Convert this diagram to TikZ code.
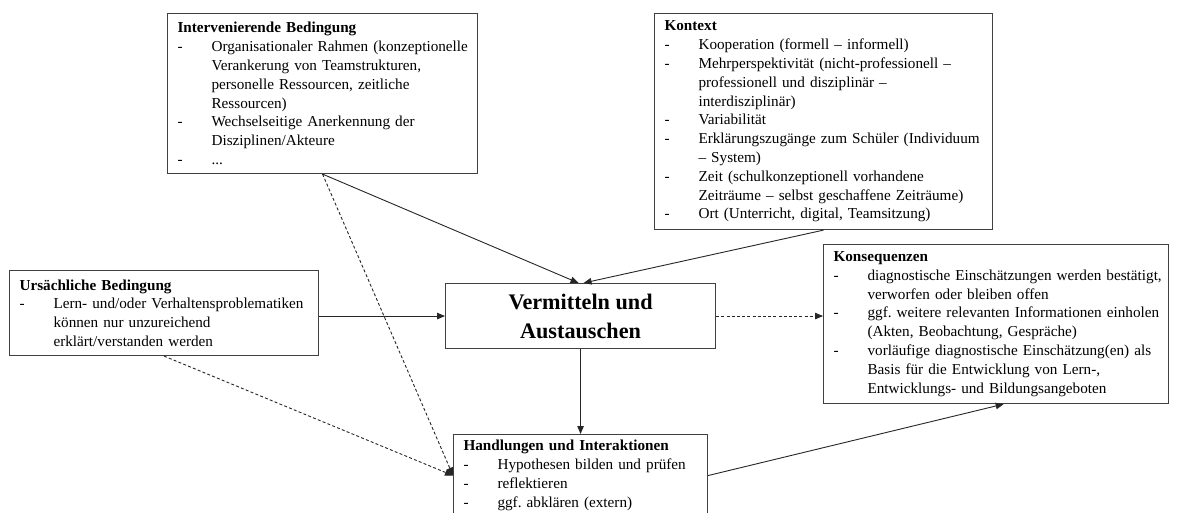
\documentclass[tikz,border=0pt]{standalone}
\usepackage{fontspec}
\setmainfont{Liberation Serif}
\usetikzlibrary{arrows.meta,calc}
\newcommand\bdash[1]{\mbox{\makebox[34pt][l]{-}#1}}
\newcommand\bcont[1]{\mbox{\hspace*{34pt}#1}}
\frenchspacing
\begin{document}
\begin{tikzpicture}[x=1pt,y=-1pt,
  box/.style={draw=black!75, line width=1.1pt, anchor=north west, align=left,
    inner xsep=10pt, inner ysep=0pt, font=\fontsize{15.2}{18.8}\selectfont},
  mainbox/.style={draw=black!75, line width=1.1pt, anchor=north west, align=center,
    inner sep=0pt, font=\fontsize{22.2}{29}\selectfont\bfseries},
  conn/.style={draw=black!85, line width=0.9pt, -{Triangle[length=8pt,width=6.5pt]}},
  dconn/.style={conn, dash pattern=on 3pt off 2.2pt}]
\clip (0,0) rectangle (1177,513);
\fill[white] (0,0) rectangle (1177,513);

\node[box, text width=290pt, minimum height=160pt] (inter) at (167,13)
 {\textbf{Intervenierende Bedingung}\\
  \bdash{Organisationaler Rahmen (konzeptionelle}\\
  \bcont{Verankerung von Teamstrukturen,}\\
  \bcont{personelle Ressourcen, zeitliche}\\
  \bcont{Ressourcen)}\\
  \bdash{Wechselseitige Anerkennung der}\\
  \bcont{Disziplinen/Akteure}\\
  \bdash{...}};

\node[box, text width=318pt, minimum height=216pt] (kontext) at (654,13)
 {\textbf{Kontext}\\
  \bdash{Kooperation (formell -- informell)}\\
  \bdash{Mehrperspektivität (nicht-professionell --}\\
  \bcont{professionell und disziplinär --}\\
  \bcont{interdisziplinär)}\\
  \bdash{Variabilität}\\
  \bdash{Erklärungszugänge zum Schüler (Individuum}\\
  \bcont{-- System)}\\
  \bdash{Zeit (schulkonzeptionell vorhandene}\\
  \bcont{Zeiträume -- selbst geschaffene Zeiträume)}\\
  \bdash{Ort (Unterricht, digital, Teamsitzung)}};

\node[box, text width=289pt, minimum height=85pt] (ursach) at (9,270)
 {\textbf{Ursächliche Bedingung}\\
  \bdash{Lern- und/oder Verhaltensproblematiken}\\
  \bcont{können nur unzureichend}\\
  \bcont{erklärt/verstanden werden}};

\node[mainbox, minimum width=270pt, minimum height=65pt] (center) at (445,283)
 {Vermitteln und\\Austauschen};

\node[box, text width=325pt, minimum height=159pt] (konseq) at (823,244)
 {\textbf{Konsequenzen}\\
  \bdash{diagnostische Einschätzungen werden bestätigt,}\\
  \bcont{verworfen oder bleiben offen}\\
  \bdash{ggf. weitere relevanten Informationen einholen}\\
  \bcont{(Akten, Beobachtung, Gespräche)}\\
  \bdash{vorläufige diagnostische Einschätzung(en) als}\\
  \bcont{Basis für die Entwicklung von Lern-,}\\
  \bcont{Entwicklungs- und Bildungsangeboten}};

\node[box, text width=234pt, minimum height=82pt] (hand) at (453,434)
 {\textbf{Handlungen und Interaktionen}\\
  \bdash{Hypothesen bilden und prüfen}\\
  \bdash{reflektieren}\\
  \bdash{ggf. abklären (extern)}};

\draw[conn] (inter.south) -- ([xshift=-2pt]center.north);
\draw[conn] (kontext.south) -- ([xshift=3pt]center.north);
\draw[conn] (ursach.east |- center.west) -- (center.west);
\draw[dconn] (center.east) -- (center.east -| konseq.west);
\draw[conn] (center.south) -- (hand.north);
\draw[conn] (hand.east) -- ($(konseq.south west)!0.522!(konseq.south east)$);
\draw[dconn] (inter.south) -- (hand.west);
\draw[dconn] (ursach.south) -- (hand.west);
\end{tikzpicture}
\end{document}
